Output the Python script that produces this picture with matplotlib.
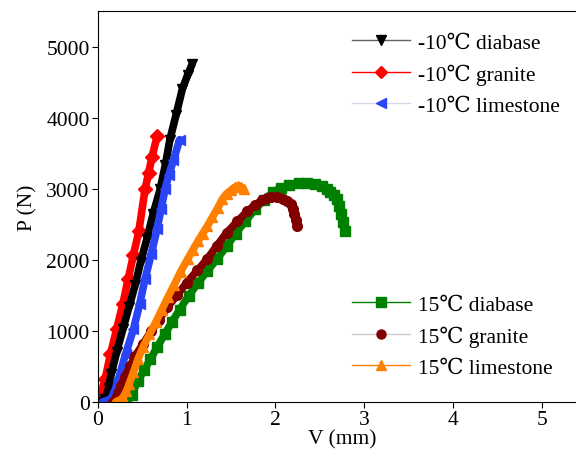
import matplotlib
matplotlib.use('Agg')
import matplotlib.pyplot as plt
from matplotlib.lines import Line2D

plt.rcParams['font.family'] = ['Liberation Serif', 'DejaVu Serif']

# -10 C series (V in mm, P in N)
v_dia_cold = [0.05, 0.08, 0.12, 0.15, 0.21, 0.28, 0.35, 0.42, 0.48, 0.55, 0.62, 0.70, 0.76, 0.81, 0.88, 0.95, 1.01, 1.06]
p_dia_cold = [0, 40, 200, 400, 700, 1025, 1340, 1650, 1970, 2290, 2640, 2990, 3340, 3690, 4040, 4400, 4600, 4750]

v_gra_cold = [0.0, 0.03, 0.08, 0.14, 0.21, 0.28, 0.34, 0.40, 0.46, 0.53, 0.57, 0.61, 0.665]
p_gra_cold = [0, 100, 320, 670, 1025, 1380, 1730, 2070, 2400, 2990, 3220, 3450, 3735]

v_lim_cold = [0.05, 0.10, 0.15, 0.19, 0.23, 0.31, 0.40, 0.47, 0.53, 0.60, 0.665, 0.71, 0.755, 0.80, 0.85, 0.92]
p_lim_cold = [0, 20, 50, 160, 320, 670, 1025, 1380, 1730, 2080, 2430, 2710, 2990, 3200, 3400, 3690]

# 15 C series
v_dia_warm = [0.32, 0.38, 0.45, 0.52, 0.59, 0.67, 0.75, 0.83, 0.92, 1.02, 1.13, 1.23, 1.34, 1.45, 1.55, 1.66, 1.77,
              1.87, 1.97, 2.06, 2.15, 2.26, 2.36, 2.45, 2.52, 2.58, 2.62, 2.66, 2.69, 2.72, 2.74, 2.76, 2.78]
p_dia_warm = [0, 100, 300, 450, 600, 780, 950, 1120, 1300, 1490, 1680, 1840, 2010, 2190, 2370, 2540, 2710,
              2840, 2950, 3010, 3050, 3075, 3080, 3065, 3040, 3000, 2960, 2910, 2850, 2760, 2650, 2530, 2400]

v_gra_warm = [0.17, 0.22, 0.26, 0.30, 0.36, 0.42, 0.51, 0.60, 0.69, 0.78, 0.89, 1.00, 1.12, 1.23, 1.34, 1.45,
              1.57, 1.68, 1.77, 1.85, 1.91, 1.95, 2.02, 2.08, 2.13, 2.17, 2.20, 2.21, 2.23, 2.24]
p_gra_warm = [0, 120, 230, 350, 500, 650, 820, 1000, 1160, 1330, 1500, 1680, 1850, 2010, 2200, 2380,
              2540, 2680, 2770, 2840, 2870, 2880, 2880, 2860, 2830, 2780, 2720, 2650, 2560, 2470]

v_lim_warm = [0.20, 0.24, 0.28, 0.32, 0.35, 0.40, 0.45, 0.51, 0.58, 0.65, 0.72, 0.79, 0.86, 0.93, 1.01, 1.07,
              1.13, 1.18, 1.23, 1.29, 1.35, 1.40, 1.45, 1.50, 1.54, 1.58, 1.61, 1.64]
p_lim_warm = [0, 20, 60, 150, 250, 420, 600, 780, 950, 1120, 1300, 1480, 1650, 1830, 2010, 2140,
              2270, 2370, 2470, 2600, 2730, 2850, 2930, 2980, 3020, 3040, 3030, 3000]

series = [
    (v_gra_cold, p_gra_cold, 'red', 'red', 'D', '-10℃ granite'),
    (v_dia_cold, p_dia_cold, 'black', '#606060', 'v', '-10℃ diabase'),
    (v_lim_cold, p_lim_cold, '#2a45f5', '#d8d8e8', '<', '-10℃ limestone'),
    (v_dia_warm, p_dia_warm, '#008000', '#008000', 's', '15℃ diabase'),
    (v_gra_warm, p_gra_warm, '#800000', '#cccccc', 'o', '15℃ granite'),
    (v_lim_warm, p_lim_warm, '#ff8000', '#ff8000', '^', '15℃ limestone'),
]

fig = plt.figure(figsize=(5.76, 4.64), dpi=100)
ax = fig.add_axes([98 / 576, 61 / 464, 488 / 576, 391 / 464])

handles = {}
for v, p, mc, lc, mk, lab in series:
    # dense marker band
    ax.plot(v, p, color=mc, lw=5.5, solid_capstyle='round', zorder=2)
    ax.plot(v, p, ls='none', marker=mk, color=mc, ms=7, zorder=2)
    handles[lab] = Line2D([], [], color=lc, lw=1, marker=mk, mfc=mc, mec=mc, ms=6.5)

ax.set_xlim(0, 5.5)
ax.set_ylim(0, 5500)
ax.set_xticks([0, 1, 2, 3, 4, 5])
ax.set_yticks([0, 1000, 2000, 3000, 4000, 5000])
ax.tick_params(direction='out', length=4, labelsize=15.5, pad=2)
ax.set_xlabel('V (mm)', fontsize=15.5, labelpad=0)
ax.set_ylabel('P (N)', fontsize=15.5, labelpad=6)

cold = ['-10℃ diabase', '-10℃ granite', '-10℃ limestone']
warm = ['15℃ diabase', '15℃ granite', '15℃ limestone']
leg1 = ax.legend([handles[k] for k in cold], cold, loc='upper left', bbox_to_anchor=(0.52, 0.945),
                 frameon=False, fontsize=15.5, handlelength=2.7, handletextpad=0.4,
                 borderpad=0, borderaxespad=0, labelspacing=0.5)
ax.add_artist(leg1)
ax.legend([handles[k] for k in warm], warm, loc='upper left', bbox_to_anchor=(0.52, 0.275),
          frameon=False, fontsize=15.5, handlelength=2.7, handletextpad=0.4,
          borderpad=0, borderaxespad=0, labelspacing=0.5)

fig.savefig('out.png', dpi=100)
